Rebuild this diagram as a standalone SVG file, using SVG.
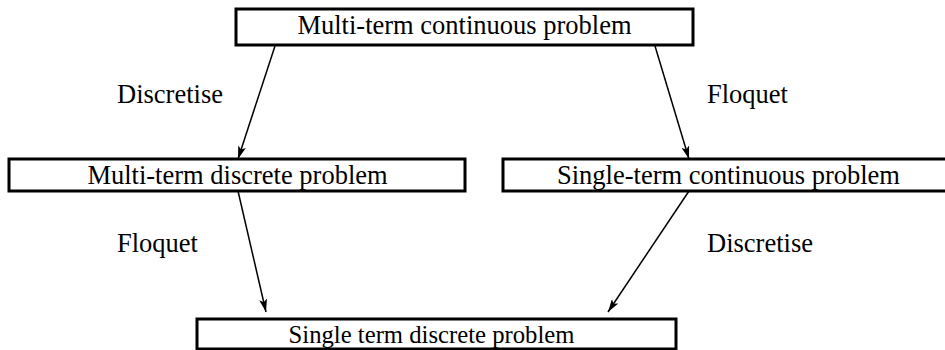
<svg xmlns="http://www.w3.org/2000/svg" width="945" height="350" viewBox="0 0 945 350">
  <style>
    .box { fill: #fff; stroke: #000; stroke-width: 3; }
    .lbl { font-family: 'Liberation Serif', 'Times New Roman', Times, serif; font-size: 26.5px; fill: #000; }
    .mid { text-anchor: middle; }
    .small { font-size: 24.7px; }
    .edge { stroke: #000; stroke-width: 1.5; fill: none; marker-end: url(#arrow); }
  </style>
  <defs>
    <marker id="arrow" viewBox="0 0 13 8" refX="13" refY="4" markerWidth="13" markerHeight="8" markerUnits="userSpaceOnUse" orient="auto">
      <path d="M0,0 L13,4 L0,8 L3,4 Z" fill="#000"/>
    </marker>
  </defs>
  <rect width="945" height="350" fill="#fff"/>

  <g id="connectors">
    <line class="edge" x1="275" y1="46" x2="238" y2="159"/>
    <line class="edge" x1="655" y1="46" x2="689" y2="159"/>
    <line class="edge" x1="238" y1="191" x2="266" y2="312"/>
    <line class="edge" x1="689" y1="191" x2="608" y2="312"/>
    <text class="lbl" x="117" y="103">Discretise</text>
    <text class="lbl" x="707" y="103">Floquet</text>
    <text class="lbl" x="117" y="252">Floquet</text>
    <text class="lbl" x="707" y="252">Discretise</text>
  </g>

  <g id="multi-term-continuous">
    <rect class="box" x="236" y="9" width="457" height="36"/>
    <text class="lbl mid" x="464.5" y="34">Multi-term continuous problem</text>
  </g>

  <g id="multi-term-discrete">
    <rect class="box" x="9" y="159" width="456" height="32"/>
    <text class="lbl mid" x="237.5" y="184">Multi-term discrete problem</text>
  </g>

  <g id="single-term-continuous">
    <rect class="box" x="503" y="159" width="451" height="32"/>
    <text class="lbl mid" x="728.5" y="184">Single-term continuous problem</text>
  </g>

  <g id="single-term-discrete">
    <rect class="box" x="197" y="319" width="479" height="30"/>
    <text class="lbl mid small" x="431.5" y="343">Single term discrete problem</text>
  </g>
</svg>
